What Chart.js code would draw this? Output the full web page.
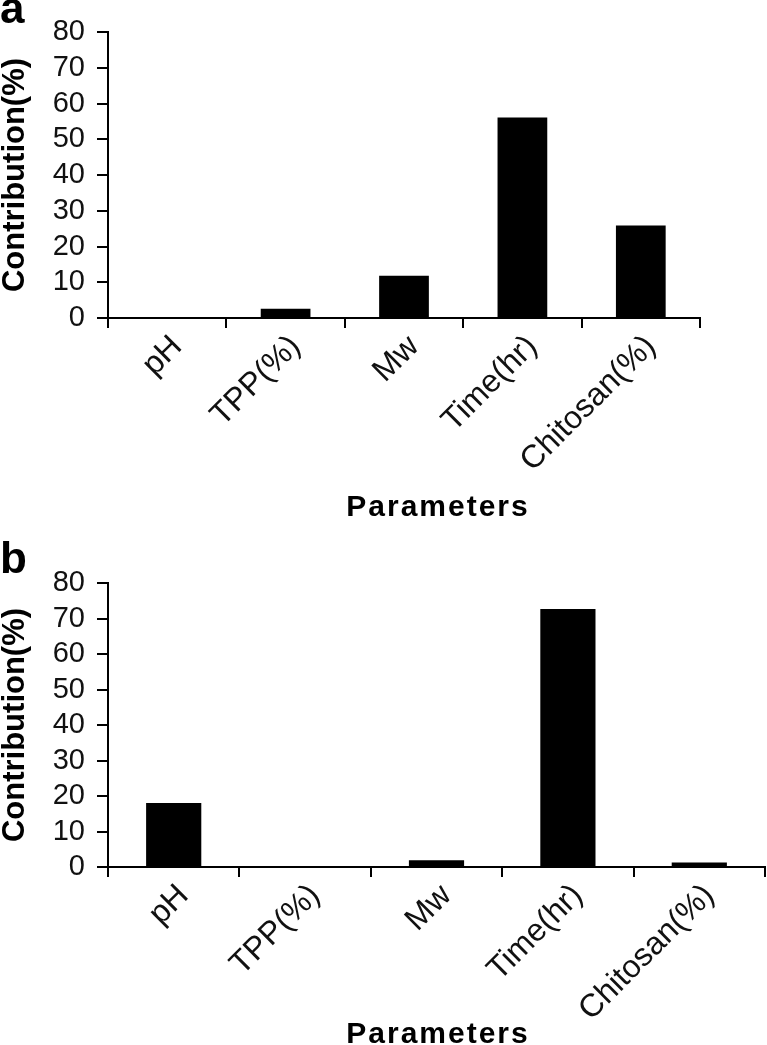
<!DOCTYPE html>
<html>
<head>
<meta charset="utf-8">
<script src="https://cdn.jsdelivr.net/npm/chart.js@4.4.1/dist/chart.umd.min.js"></script>
<style>
  html, body { margin: 0; padding: 0; background: #fff; }
  body { width: 767px; height: 1045px; position: relative; overflow: hidden; }
  .panel { position: absolute; left: 0; width: 767px; }
  #wrapA { top: 0; height: 530px; }
  #wrapB { top: 530px; height: 515px; }
  .letter { position: absolute; left: 0; font: bold 44px "Liberation Sans", Arial, sans-serif; line-height: 1; color: #000; }
  .xtitle { position: absolute; left: 338px; width: 200px; text-align: center; font: bold 30px "Liberation Sans", Arial, sans-serif; letter-spacing: 2px; line-height: 1; color: #000; }
</style>
</head>
<body>
<div class="panel" id="wrapA"><canvas id="chartA" width="767" height="530"></canvas></div>
<div class="panel" id="wrapB"><canvas id="chartB" width="767" height="515"></canvas></div>
<div class="letter" style="top:-14px;">a</div>
<div class="letter" style="top:536px;">b</div>
<div class="xtitle" style="top:491px;">Parameters</div>
<div class="xtitle" style="top:1018px;">Parameters</div>
<script>
// Data
const categories = ['pH', 'TPP(%)', 'Mw', 'Time(hr)', 'Chitosan(%)'];
const contribA = [0, 2.6, 11.8, 56.1, 25.9];
const contribB = [18.0, 0, 1.9, 72.7, 1.3];
const yTickValues = [0, 10, 20, 30, 40, 50, 60, 70, 80];

const family = '"Liberation Sans", Arial, sans-serif';

function makeChart(id, values, padTop, padRight, xHeight) {
    const ctx = document.getElementById(id).getContext('2d');
    return new Chart(ctx, {
        type: 'bar',
        data: {
            labels: categories,
            datasets: [{
                data: values,
                backgroundColor: '#000',
                borderWidth: 0,
                categoryPercentage: 1,
                barPercentage: 0.42
            }]
        },
        options: {
            responsive: false,
            animation: false,
            layout: { padding: { top: padTop, right: padRight, left: 0, bottom: 0 } },
            plugins: { legend: { display: false }, tooltip: { enabled: false } },
            scales: {
                x: {
                    grid: { offset: true, drawOnChartArea: false, drawTicks: true, tickLength: 10, color: '#000', lineWidth: 2 },
                    border: { display: true, color: '#000', width: 2 },
                    ticks: {
                        color: '#111', font: { family: family, size: 32 },
                        minRotation: 45, maxRotation: 45, autoSkip: false, padding: 0, labelOffset: 10
                    },
                    afterFit(scale) { scale.height = xHeight; }
                },
                y: {
                    min: yTickValues[0], max: yTickValues[yTickValues.length - 1],
                    ticks: { color: '#111', font: { family: family, size: 29 }, padding: 12, autoSkip: false },
                    grid: { drawOnChartArea: false, tickLength: 11, color: '#000', lineWidth: 2 },
                    border: { color: '#000', width: 2 },
                    title: {
                        display: true, text: 'Contribution(%)', color: '#000',
                        font: { family: family, size: 31, weight: 'bold', lineHeight: 1 },
                        padding: 0
                    },
                    afterBuildTicks(scale) { scale.ticks = yTickValues.map(v => ({ value: v })); },
                    afterFit(scale) { scale.width = 108; }
                }
            }
        }
    });
}

makeChart('chartA', contribA, 32, 67, 212);
makeChart('chartB', contribB, 53, 2, 178);
</script>
</body>
</html>
